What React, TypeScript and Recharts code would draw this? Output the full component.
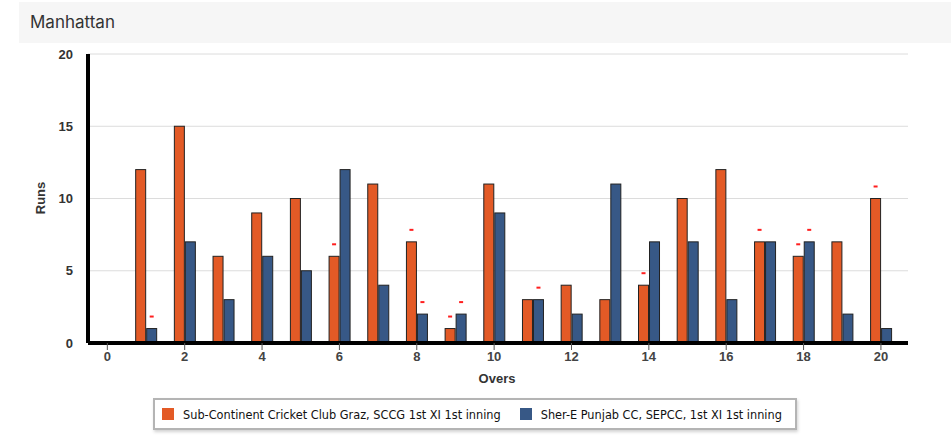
import React from 'react'
import {
  ComposedChart,
  Bar,
  XAxis,
  YAxis,
  CartesianGrid,
} from 'recharts'

// runs per over, one entry per over (1..20)
const overs = [1, 2, 3, 4, 5, 6, 7, 8, 9, 10, 11, 12, 13, 14, 15, 16, 17, 18, 19, 20]
const sccgRuns = [12, 15, 6, 9, 10, 6, 11, 7, 1, 11, 3, 4, 3, 4, 10, 12, 7, 6, 7, 10]
const sepccRuns = [1, 7, 3, 6, 5, 12, 4, 2, 2, 9, 3, 2, 11, 7, 7, 3, 7, 7, 2, 1]
// wickets fallen in each over
const sccgWickets = [0, 0, 0, 0, 0, 1, 0, 1, 1, 0, 0, 0, 0, 1, 0, 0, 1, 1, 0, 1]
const sepccWickets = [1, 0, 0, 0, 0, 0, 0, 1, 1, 0, 1, 0, 0, 0, 0, 0, 0, 1, 0, 0]

const xTicks = [0, 2, 4, 6, 8, 10, 12, 14, 16, 18, 20]
const yTicks = [0, 5, 10, 15, 20]

const series = [
  { key: 'sccg', wicketKey: 'sccgW', name: 'Sub-Continent Cricket Club Graz, SCCG 1st XI 1st inning', color: '#E35A26' },
  { key: 'sepcc', wicketKey: 'sepccW', name: 'Sher-E Punjab CC, SEPCC, 1st XI 1st inning', color: '#375886' },
]

const data = overs.map((over, i) => ({
  over,
  sccg: sccgRuns[i],
  sepcc: sepccRuns[i],
  sccgW: sccgWickets[i],
  sepccW: sepccWickets[i],
}))

const tickFont = { fontFamily: '"Liberation Sans", Arial, sans-serif', fontWeight: 700, fontSize: 13 }

function WicketBar(props: any) {
  const { x, y, width, height, fill, payload, wicketKey } = props
  const wickets = payload ? payload[wicketKey] : 0
  return (
    <g>
      <rect x={x} y={y} width={width} height={height} fill={fill} stroke="#222" strokeWidth={1} />
      {wickets > 0 && (
        <rect x={x + width / 2 - 2} y={y - 13} width={4} height={2} fill="#ff1f1f" />
      )}
    </g>
  )
}

export default function App() {
  return (
    <div
      style={{
        position: 'absolute',
        left: 0,
        top: 0,
        width: 951,
        height: 440,
        background: '#fff',
        fontFamily: 'Inter, "Noto Sans", sans-serif',
        overflow: 'hidden',
      }}
    >
      {/* title strip */}
      <div
        style={{
          position: 'absolute',
          left: 19,
          top: 2,
          width: 932,
          height: 41,
          background: '#f6f6f6',
          color: '#333',
          fontSize: 17,
          lineHeight: '41px',
          paddingLeft: 11,
          boxSizing: 'border-box',
        }}
      >
        Manhattan
      </div>

      <div style={{ position: 'absolute', left: 0, top: 0 }}>
        <ComposedChart
          width={951}
          height={440}
          data={data}
          margin={{ top: 54, right: 43, bottom: 57, left: 0 }}
          barGap={1}
        >
          <CartesianGrid vertical={false} stroke="#dcdcdc" />
          <XAxis
            dataKey="over"
            type="number"
            domain={[-0.5, 20.7]}
            ticks={xTicks}
            interval={0}
            height={40}
            axisLine={{ stroke: '#000', strokeWidth: 4 }}
            tickLine={{ stroke: '#555' }}
            tickSize={7}
            tickMargin={2}
            tick={{ ...tickFont, fill: '#444' }}
          />
          <YAxis
            type="number"
            domain={[0, 20]}
            ticks={yTicks}
            interval={0}
            width={88}
            axisLine={{ stroke: '#000', strokeWidth: 4 }}
            tickLine={false}
            tickMargin={9}
            tick={{ ...tickFont, fill: '#333' }}
          />
          {series.map((s) => (
            <Bar
              key={s.key}
              dataKey={s.key}
              name={s.name}
              fill={s.color}
              barSize={10}
              isAnimationActive={false}
              shape={(p: any) => <WicketBar {...p} wicketKey={s.wicketKey} />}
            />
          ))}
        </ComposedChart>
      </div>

      {/* axis titles */}
      <div
        style={{
          position: 'absolute',
          left: 497,
          top: 378,
          transform: 'translate(-50%, -50%)',
          ...tickFont,
          color: '#333',
        }}
      >
        Overs
      </div>
      <div
        style={{
          position: 'absolute',
          left: 40,
          top: 198,
          transform: 'translate(-50%, -50%) rotate(-90deg)',
          ...tickFont,
          color: '#333',
        }}
      >
        Runs
      </div>

      {/* legend */}
      <div
        style={{
          position: 'absolute',
          left: 153,
          top: 398,
          width: 644,
          height: 32,
          boxSizing: 'border-box',
          border: '2px solid #b4b4b4',
          boxShadow: '1px 2px 3px rgba(0,0,0,0.18)',
          display: 'flex',
          alignItems: 'center',
          paddingLeft: 7,
          fontFamily: '"DejaVu Sans Condensed", "DejaVu Sans", sans-serif',
          fontSize: 12.6,
          color: '#111',
          whiteSpace: 'nowrap',
        }}
      >
        {series.map((s, i) => (
          <div key={s.key} style={{ display: 'flex', alignItems: 'center', marginRight: i === 0 ? 19 : 0 }}>
            <span style={{ width: 12, height: 12, background: s.color, display: 'inline-block', marginRight: 9, flexShrink: 0 }} />
            <span>{s.name}</span>
          </div>
        ))}
      </div>
    </div>
  )
}
